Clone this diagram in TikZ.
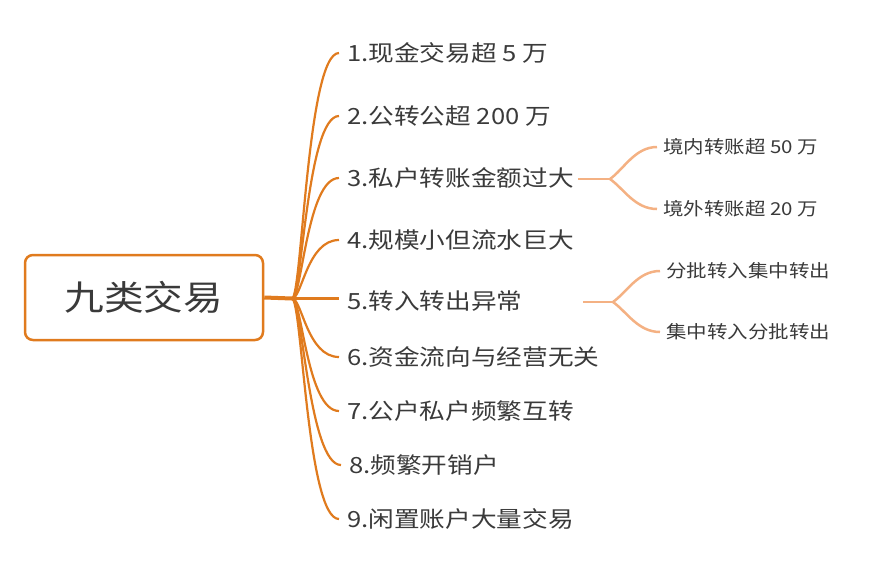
\documentclass[tikz,border=0pt]{standalone}
\usepackage{fontspec}
\setmainfont[FakeStretch=1.15]{Noto Sans CJK SC}
\usetikzlibrary{calc}
\definecolor{mainor}{HTML}{E07B1E}
\definecolor{subor}{HTML}{F4B183}
\definecolor{txt}{HTML}{3A3A3A}
\tikzset{
  rootbox/.style={draw=mainor,line width=2.5pt,rounded corners=8pt,minimum width=238pt,minimum height=85pt,inner sep=0pt,text=txt,font=\fontsize{34.5}{38}\selectfont},
  child/.style={anchor=west,inner xsep=8pt,inner ysep=0pt,text=txt,font=\fontsize{22.3}{25}\selectfont},
  subchild/.style={anchor=west,inner xsep=6pt,inner ysep=0pt,text=txt,font=\fontsize{17.8}{22}\selectfont},
  branch/.style={draw=mainor,line width=2.2pt},
  subbranch/.style={draw=subor,line width=2.5pt}
}
\begin{document}
\begin{tikzpicture}[x=1pt,y=-1pt]
\useasboundingbox (0,0) rectangle (894,574);
\node[rootbox] (root) at (144,297.5) {九类交易};
\coordinate (j) at (292,298.5);
\node[child] (c1) at (339,53) {1.现金交易超 5 万};
\node[child] (c2) at (339,116) {2.公转公超 200 万};
\node[child] (c3) at (339,178) {3.私户转账金额过大};
\node[child] (c4) at (339,240) {4.规模小但流水巨大};
\node[child] (c5) at (339,301) {5.转入转出异常};
\node[child] (c6) at (339,357) {6.资金流向与经营无关};
\node[child] (c7) at (339,411) {7.公户私户频繁互转};
\node[child] (c8) at (341,465) {8.频繁开销户};
\node[child] (c9) at (339,519) {9.闲置账户大量交易};
\draw[draw=mainor,line width=4pt] (root.east) -- (j);
\foreach \c in {c1,c2,c3,c4,c6,c7,c8,c9}{
  \draw[branch] (j) .. controls ($(j)+(10,0)$) and ($(\c.west)+(-32,0)$) .. (\c.west);
}
\draw[branch] (j) -- (j -| c5.west);
% sub-branches of 3
\coordinate (s3a) at (578,179);
\coordinate (s3b) at (610,179);
\node[subchild] (d1) at (657,147) {境内转账超 50 万};
\node[subchild] (d2) at (657,209) {境外转账超 20 万};
\draw[subbranch] (s3a) -- (s3b);
\draw[subbranch] (s3b) .. controls ($(s3b)+(14,-10)$) and ($(d1.west)+(-22,0)$) .. (d1.west);
\draw[subbranch] (s3b) .. controls ($(s3b)+(14,10)$) and ($(d2.west)+(-22,0)$) .. (d2.west);
% sub-branches of 5
\coordinate (s5a) at (583,302);
\coordinate (s5b) at (613,302);
\node[subchild] (e1) at (660,271) {分批转入集中转出};
\node[subchild] (e2) at (660,332) {集中转入分批转出};
\draw[subbranch] (s5a) -- (s5b);
\draw[subbranch] (s5b) .. controls ($(s5b)+(14,-10)$) and ($(e1.west)+(-22,0)$) .. (e1.west);
\draw[subbranch] (s5b) .. controls ($(s5b)+(14,10)$) and ($(e2.west)+(-22,0)$) .. (e2.west);
\end{tikzpicture}
\end{document}
